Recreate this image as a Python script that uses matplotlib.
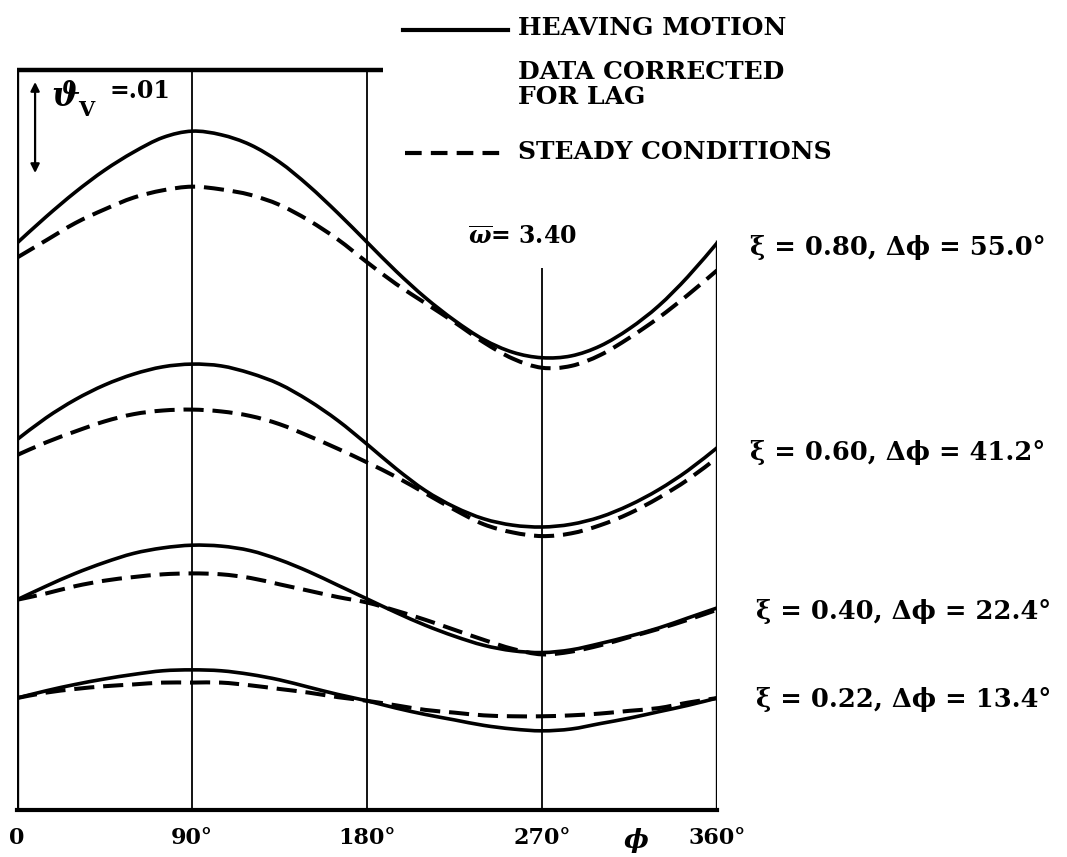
import numpy as np
import matplotlib
matplotlib.use("Agg")
import matplotlib.pyplot as plt
from matplotlib.path import Path
from matplotlib.patches import PathPatch

# Phase angle, degrees
phi = [0, 15, 30, 45, 60, 75, 90, 105, 120, 135, 150, 165, 180,
       195, 210, 225, 240, 255, 270, 285, 300, 315, 330, 345, 360]

# Curves in units of 0.001 (vertical offsets between pairs are arbitrary)
heave_080 = [62.3, 65.2, 67.9, 70.3, 72.3, 73.9, 74.6, 74.2, 73.1, 71.2, 68.6, 65.6, 62.4,
             59.2, 56.3, 53.8, 51.7, 50.3, 49.7, 49.9, 51.0, 52.9, 55.4, 58.6, 62.3]
steady_080 = [60.7, 62.6, 64.5, 66.0, 67.3, 68.1, 68.5, 68.2, 67.6, 66.5, 64.8, 62.7, 60.2,
              57.8, 55.7, 53.6, 51.4, 49.6, 48.6, 48.8, 50.0, 51.9, 54.1, 56.6, 59.3]
heave_060 = [40.7, 43.1, 45.1, 46.7, 47.9, 48.7, 49.0, 48.8, 48.0, 46.8, 45.0, 42.8, 40.2,
             37.5, 35.1, 33.3, 32.0, 31.3, 31.1, 31.4, 32.2, 33.5, 35.2, 37.3, 39.8]
steady_060 = [39.0, 40.4, 41.6, 42.7, 43.5, 43.9, 44.0, 43.8, 43.3, 42.4, 41.1, 39.7, 38.2,
              36.6, 34.8, 33.0, 31.4, 30.5, 30.1, 30.4, 31.3, 32.6, 34.3, 36.3, 38.7]
heave_040 = [23.1, 24.6, 26.0, 27.2, 28.2, 28.8, 29.1, 29.0, 28.5, 27.5, 26.2, 24.7, 23.2,
             21.7, 20.3, 19.1, 18.1, 17.5, 17.3, 17.6, 18.3, 19.1, 20.0, 21.1, 22.2]
steady_040 = [23.1, 23.8, 24.6, 25.2, 25.6, 25.9, 26.0, 25.9, 25.5, 24.8, 24.1, 23.4, 22.8,
              21.9, 20.9, 19.8, 18.7, 17.7, 17.1, 17.4, 18.1, 19.0, 19.9, 20.9, 22.0]
heave_022 = [12.3, 13.1, 13.8, 14.4, 14.9, 15.3, 15.4, 15.3, 14.9, 14.3, 13.5, 12.7, 12.0,
             11.2, 10.5, 9.9, 9.3, 8.9, 8.7, 8.9, 9.5, 10.1, 10.8, 11.5, 12.3]
steady_022 = [12.3, 12.9, 13.3, 13.6, 13.8, 14.0, 14.0, 14.0, 13.7, 13.3, 12.9, 12.4, 12.0,
              11.5, 11.0, 10.7, 10.4, 10.3, 10.3, 10.4, 10.6, 10.9, 11.2, 11.8, 12.3]

labels = ["ξ = 0.80, Δϕ = 55.0°", "ξ = 0.60, Δϕ = 41.2°",
          "ξ = 0.40, Δϕ = 22.4°", "ξ = 0.22, Δϕ = 13.4°"]
label_y = [61.8, 39.3, 21.8, 12.1]
label_x = [377, 377, 380, 380]

tick_pos = [0, 90, 180, 270, 360]
tick_txt = ["0", "90°", "180°", "270°", "360°"]

FONT = "DejaVu Serif"
plt.rcParams["font.family"] = FONT
plt.rcParams["font.weight"] = "bold"
plt.rcParams["mathtext.fontset"] = "dejavuserif"


def smooth_path(x, y):
    """Cubic Bezier path passing through every (x, y) point."""
    p = np.column_stack([x, y]).astype(float)
    verts = [p[0]]
    codes = [Path.MOVETO]
    n = len(p)
    for i in range(n - 1):
        p0 = p[i - 1] if i > 0 else p[i]
        p1, p2 = p[i], p[i + 1]
        p3 = p[i + 2] if i + 2 < n else p[i + 1]
        verts += [p1 + (p2 - p0) / 6.0, p2 - (p3 - p1) / 6.0, p2]
        codes += [Path.CURVE4] * 3
    return Path(verts, codes)


fig = plt.figure(figsize=(10.67, 8.57), dpi=100)
ax = fig.add_axes([17 / 1067, 47 / 857, 700 / 1067, 740 / 857])
ax.set_xlim(0, 360)
top = 81.32
ax.set_ylim(0, top)
for s in ax.spines.values():
    s.set_visible(False)
ax.set_yticks([])

# frame and phase lines
ax.axvline(0, color="black", lw=2.4)
ax.axhline(0, color="black", lw=3.0, clip_on=False)
ax.hlines(top, 0, 188, color="black", lw=3.2, clip_on=False)
ax.vlines(360, 0, 62.6, color="black", lw=2.4)
ax.vlines([90, 180], 0, top, color="black", lw=1.3)
ax.vlines(270, 0, 59.6, color="black", lw=1.3)

pairs = [(heave_080, steady_080), (heave_060, steady_060),
         (heave_040, steady_040), (heave_022, steady_022)]
for h, s in pairs:
    ax.add_patch(PathPatch(smooth_path(phi, h), fill=False, edgecolor="black",
                           lw=2.6, capstyle="round"))
    ax.add_patch(PathPatch(smooth_path(phi, s), fill=False, edgecolor="black",
                           lw=2.9, linestyle=(0, (5.0, 2.2))))

for t, x, y in zip(labels, label_x, label_y):
    ax.text(x, y, t, fontsize=18.5, va="center", ha="left", clip_on=False)

ax.text(232, 63.0, r"$\overline{\omega}$= 3.40", fontsize=17, va="center",
        ha="left")

ax.set_xticks(tick_pos)
ax.set_xticklabels(tick_txt, fontsize=16)
ax.tick_params(axis="x", length=0, pad=12)
ax.text(318.4, -3.3, "ϕ", fontsize=19, style="italic", ha="center", va="center",
        clip_on=False)

# scale bar
ax.annotate("", xy=(9.3, 70.0), xytext=(9.3, 80.0),
            arrowprops=dict(arrowstyle="<|-|>", color="black", lw=1.6,
                            mutation_scale=13, shrinkA=0, shrinkB=0))
ax.text(17.5, 78.4, r"$\vartheta$", fontsize=24, ha="left", va="center")
ax.text(31.5, 76.9, "V", fontsize=15, ha="left", va="center")
ax.text(47.5, 79.0, "=.01", fontsize=17, ha="left", va="center")

# legend
ax.plot([198.6, 252.6], [85.7, 85.7], color="black", lw=3.0, clip_on=False)
ax.text(257.7, 85.9, "HEAVING MOTION", fontsize=18, va="center", clip_on=False)
ax.text(257.7, 81.1, "DATA CORRECTED", fontsize=18, va="center", clip_on=False)
ax.text(257.7, 78.4, "FOR LAG", fontsize=18, va="center", clip_on=False)
ax.plot([199.5, 251], [72.2, 72.2], color="black", lw=3.0, dashes=(4, 2.2),
        clip_on=False)
ax.text(257.7, 72.3, "STEADY CONDITIONS", fontsize=18, va="center", clip_on=False)

fig.savefig("out.png", dpi=100, facecolor="white")
